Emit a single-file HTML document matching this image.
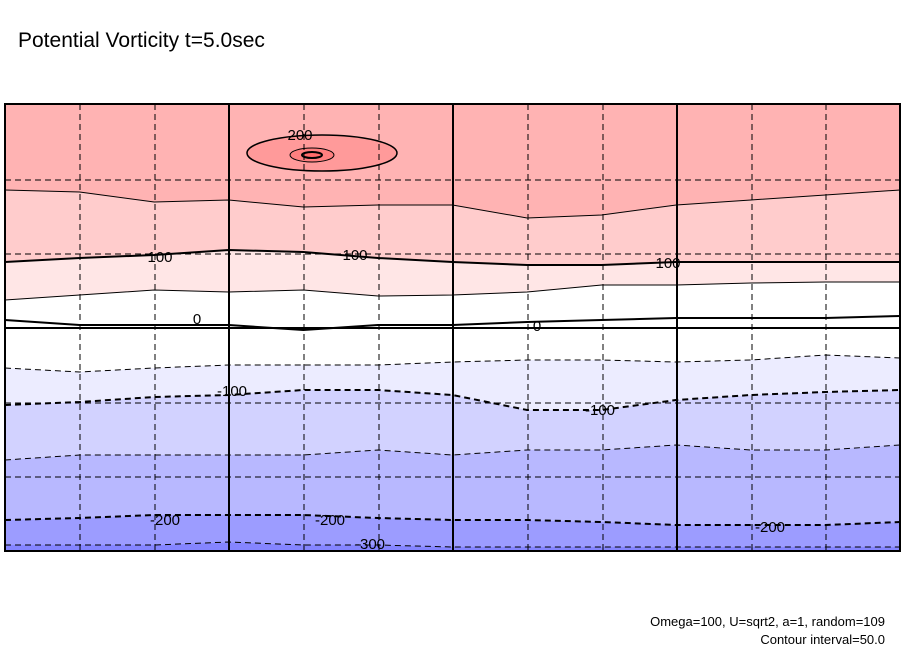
<!DOCTYPE html>
<html><head><meta charset="utf-8"><style>
html,body{margin:0;padding:0;background:#fff;width:904px;height:654px;overflow:hidden}
svg{display:block;font-family:"Liberation Sans",sans-serif}
</style></head><body>
<svg id="chart" width="904" height="654" xmlns="http://www.w3.org/2000/svg">
<text x="18" y="47" font-size="21">Potential Vorticity t=5.0sec</text>
<g id="plot"></g>
<text x="885" y="626" font-size="13" text-anchor="end">Omega=100, U=sqrt2, a=1, random=109</text>
<text x="885" y="644" font-size="13" text-anchor="end">Contour interval=50.0</text>
</svg>
<script>
const levels = [150, 100, 50, 0, -50, -100, -150, -200, -250];
const c150 = [190,192,202,200,207,205,205,218,215,205,200,195,190];
const c100 = [262,258,255,250,252,258,262,265,265,262,262,262,262];
const c50 = [300,295,290,292,290,296,295,292,285,285,283,282,282];
const c0 = [320,325,325,325,330,325,325,322,320,318,318,318,316];
const cm50 = [368,372,368,365,365,365,362,360,360,362,360,355,358];
const cm100 = [405,402,397,395,390,390,395,410,410,400,395,392,390];
const cm150 = [460,455,455,455,455,450,455,450,450,445,450,450,445];
const cm200 = [520,518,515,515,515,518,520,520,522,525,525,525,522];
const cm250 = [545,545,545,542,545,545,547,547,547,547,547,547,547];
const fills = ["#ffb3b3","#ffcccc","#ffe6e6","#ffffff","#ffffff","#ececff","#d2d2ff","#b8b8ff","#9c9cff","#8585ff"];
const contourLabels = [{t:"200",x:300,y:140},{t:"100",x:160,y:262},{t:"100",x:355,y:260},{t:"100",x:668,y:268},{t:"0",x:197,y:324},{t:"0",x:537,y:331},{t:"-100",x:232,y:396},{t:"-100",x:600,y:415},{t:"-200",x:165,y:525},{t:"-200",x:330,y:525},{t:"-200",x:770,y:532},{t:"-300",x:370,y:549}];
const X0=5,X1=900,Y0=104,Y1=551;
const ns="http://www.w3.org/2000/svg";
const plot=document.getElementById('plot');
const curves=[c150,c100,c50,c0,cm50,cm100,cm150,cm200,cm250];
function px(i){return X0+(X1-X0)*i/12;}
function mk(tag,attrs){const e=document.createElementNS(ns,tag);for(const k in attrs)e.setAttribute(k,attrs[k]);return e;}
function pathOf(arr){let d="";arr.forEach((v,i)=>{d+=(i?"L":"M")+px(i)+","+v;});return d;}
// bands
for(let b=0;b<=curves.length;b++){
  const top=b===0?null:curves[b-1], bot=b===curves.length?null:curves[b];
  let d="";
  if(top){d=pathOf(top);}else{d="M"+X0+","+Y0+"L"+X1+","+Y0;}
  if(bot){for(let i=12;i>=0;i--)d+="L"+px(i)+","+bot[i];}else{d+="L"+X1+","+Y1+"L"+X0+","+Y1;}
  d+="Z";
  const p=mk('path',{d:d,fill:fills[b]});
  
  
  plot.appendChild(p);
}
// top high-vorticity blob
const blob=mk('ellipse',{cx:322,cy:153,rx:75,ry:18,fill:"#ff9a9a",stroke:"#000","stroke-width":1.5});


plot.appendChild(blob);
const blob2=mk('ellipse',{cx:312,cy:155,rx:22,ry:7,fill:"#ff8080",stroke:"#000","stroke-width":1});


plot.appendChild(blob2);
const blob3=mk('ellipse',{cx:312,cy:155,rx:10,ry:3,fill:"#ff6b6b",stroke:"#000","stroke-width":2});


plot.appendChild(blob3);
// contour lines
curves.forEach((arr,k)=>{
  const lv=levels[k];
  const thick=(lv%100===0)?2:1;
  const attrs={d:pathOf(arr),fill:"none",stroke:"#000","stroke-width":thick};
  if(lv<0)attrs["stroke-dasharray"]="6,4";
  const p=mk('path',attrs);
  
  
  plot.appendChild(p);
});
// grid
const gridX=[80,155,229,304,379,453,528,603,677,752,826];
const gridY=[180,254,328,403,477];
gridX.forEach(x=>{const solid=(x===229||x===453||x===677);
  const l=mk('line',{x1:x,x2:x,y1:Y0,y2:Y1,stroke:"#000","stroke-width":solid?2:1});
  if(!solid)l.setAttribute('stroke-dasharray','6,4');
  
  
  plot.appendChild(l);});
gridY.forEach(y=>{const solid=(y===328);
  const l=mk('line',{x1:X0,x2:X1,y1:y,y2:y,stroke:"#000","stroke-width":solid?2:1});
  if(!solid)l.setAttribute('stroke-dasharray','6,4');
  
  
  plot.appendChild(l);});
contourLabels.forEach(o=>{
  const t=mk('text',{x:o.x,y:o.y,"font-size":15,"text-anchor":"middle"});
  t.textContent=o.t;
  
  
  plot.appendChild(t);
});
const frame=mk('rect',{x:X0,y:Y0,width:X1-X0,height:Y1-Y0,fill:"none",stroke:"#000","stroke-width":2});


plot.appendChild(frame);
</script>
</body></html>
